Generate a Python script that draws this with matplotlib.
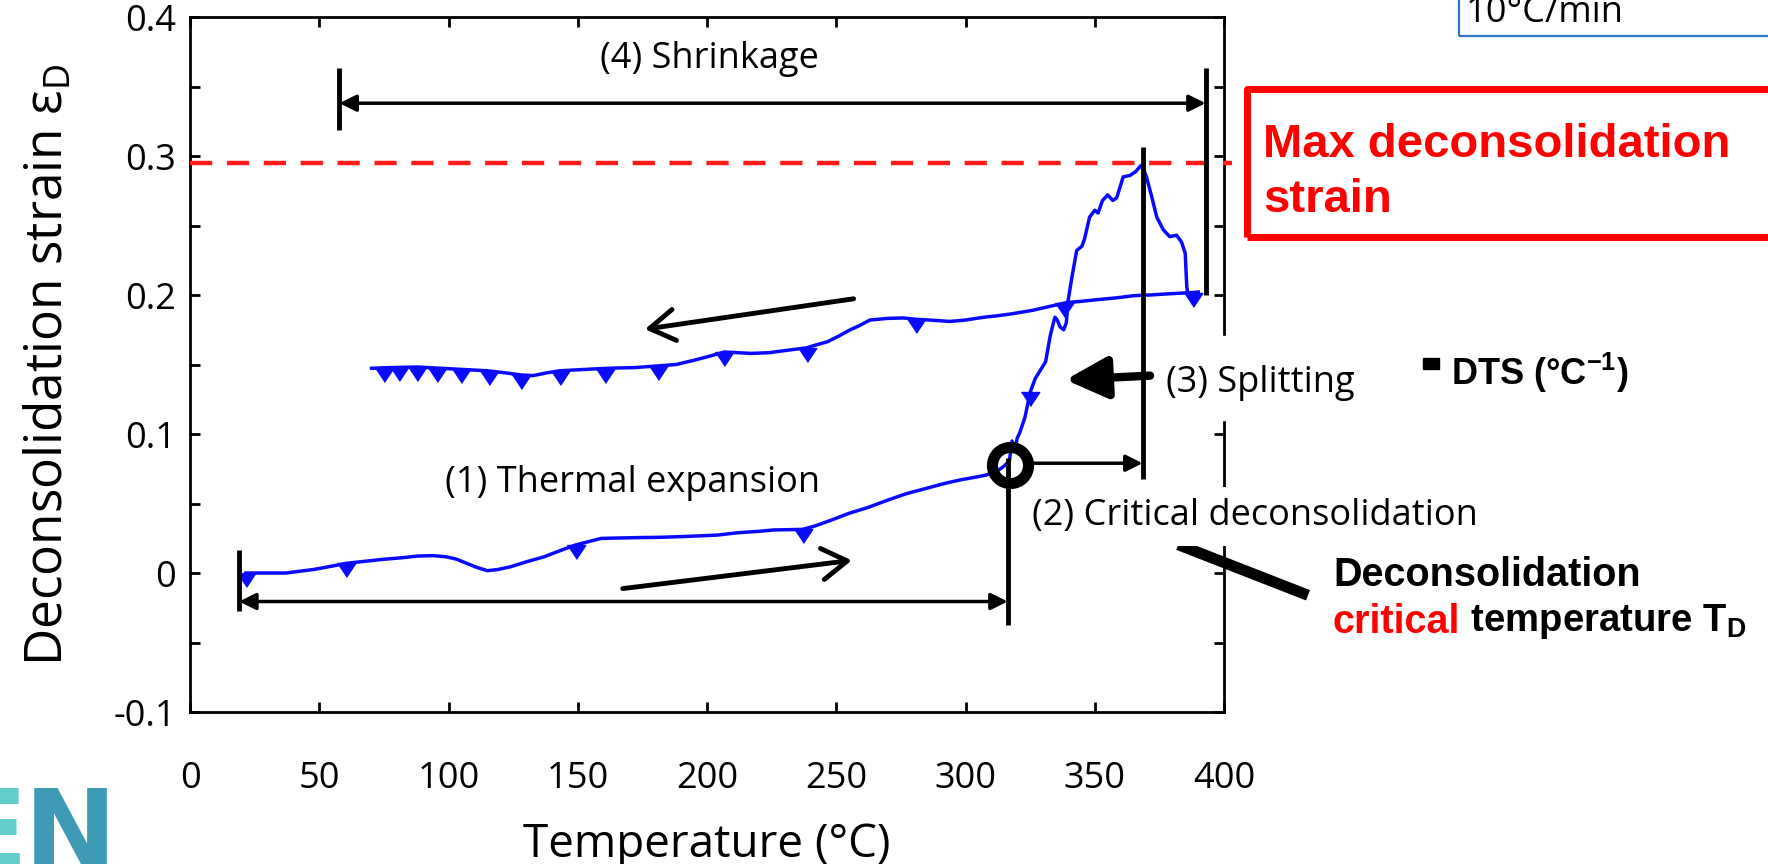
import matplotlib.pyplot as plt
from matplotlib.patches import Rectangle

plt.rcParams['font.family'] = ['Open Sans', 'DejaVu Sans']
plt.rcParams['mathtext.fontset'] = 'custom'
plt.rcParams['mathtext.rm'] = 'Open Sans'
plt.rcParams['mathtext.bf'] = 'Liberation Sans:bold'

# heating branch
heat_T = [21.6, 30, 37, 48, 55, 60.5, 68, 75, 82, 88, 94, 99, 103, 107, 111, 115, 119, 124,
          130, 137, 143, 149, 154, 159, 166, 174, 182, 190, 198, 204, 212, 220, 226, 232, 237,
          242, 248, 255, 262, 270, 277, 285, 292, 298, 304, 308, 312, 315, 317, 318, 319, 320,
          321, 323, 325, 327, 329, 331, 332.7, 334, 334.6, 335.5, 336.6, 338, 339, 339.7, 341,
          343, 345, 346, 348, 350, 351.3, 353, 355, 357, 358.5, 360, 361, 363.6, 366, 367.7,
          369, 370, 372, 374, 376.5, 379, 381.7, 383.6, 385, 385.6, 386, 388, 390]
heat_eps = [0.000, 0.000, 0.000, 0.0026, 0.005, 0.007, 0.0085, 0.0099, 0.011, 0.0122, 0.0125,
            0.0117, 0.0100, 0.0070, 0.0040, 0.0017, 0.0025, 0.0045, 0.008, 0.0117, 0.016,
            0.0201, 0.0225, 0.0249, 0.0252, 0.0255, 0.0257, 0.0262, 0.0268, 0.0273, 0.029,
            0.030, 0.031, 0.0312, 0.0314, 0.034, 0.038, 0.043, 0.047, 0.0525, 0.057, 0.061,
            0.0645, 0.067, 0.069, 0.0705, 0.073, 0.077, 0.081, 0.095, 0.088, 0.097, 0.101,
            0.112, 0.130, 0.140, 0.146, 0.152, 0.170, 0.180, 0.184, 0.182, 0.177, 0.175, 0.180,
            0.196, 0.211, 0.232, 0.235, 0.240, 0.256, 0.261, 0.259, 0.268, 0.272, 0.268, 0.270,
            0.279, 0.285, 0.286, 0.289, 0.293, 0.290, 0.285, 0.271, 0.256, 0.247, 0.242, 0.243,
            0.238, 0.230, 0.206, 0.201, 0.2015, 0.202]

# cooling branch
cool_T = [390, 385, 380, 371, 365, 358.5, 350, 345, 339, 333, 326, 318, 312, 307, 300, 294,
          286, 281, 276, 270, 263, 259, 255.4, 251, 246.6, 242, 238.5, 230, 224, 217, 212,
          206.7, 201, 194.8, 188, 181, 172, 165, 158, 150, 143, 138, 132.7, 128, 122, 115,
          110, 105, 100, 95, 88, 82, 76, 70.2]
cool_eps = [0.202, 0.2015, 0.201, 0.200, 0.1995, 0.198, 0.1965, 0.1955, 0.1945, 0.192, 0.189,
            0.1865, 0.185, 0.184, 0.182, 0.181, 0.182, 0.1825, 0.1835, 0.1832, 0.182, 0.178,
            0.175, 0.1705, 0.1664, 0.164, 0.162, 0.160, 0.1585, 0.158, 0.1585, 0.159, 0.156,
            0.153, 0.150, 0.149, 0.1478, 0.1475, 0.147, 0.1462, 0.1455, 0.144, 0.142, 0.1425,
            0.144, 0.1455, 0.146, 0.1465, 0.147, 0.1475, 0.1482, 0.148, 0.1477, 0.1473]

mark_T = [21.6, 60.5, 149.3, 237, 325, 74.9, 80.8, 87.9, 95.6, 105, 115.6, 128.2, 143, 160.5,
          181.2, 206.7, 238.5, 280.7, 338, 388]
mark_eps = [0.000, 0.007, 0.0201, 0.0314, 0.130, 0.1477, 0.148, 0.1482, 0.1475, 0.1465,
            0.1455, 0.1425, 0.1455, 0.147, 0.149, 0.159, 0.162, 0.1825, 0.194, 0.2018]

# key points of the annotation
T_start = 19
T_D = 316.3
eps_TD = 0.078
T_peak = 368.5
eps_max = 0.2947
T_shrink = 57.8
T_end = 392.9

xticks = [0, 50, 100, 150, 200, 250, 300, 350, 400]
yticks = [-0.1, 0, 0.1, 0.2, 0.3, 0.4]
ytick_labels = ['-0.1', '0', '0.1', '0.2', '0.3', '0.4']

fig = plt.figure(figsize=(17.68, 8.64), dpi=100)
ax = fig.add_axes([0.1075, 0.1759, 0.5848, 0.8044])

ax.plot(heat_T, heat_eps, color='#0a0aff', lw=2.5, zorder=4)
ax.plot(cool_T, cool_eps, color='#0a0aff', lw=2.5, zorder=4)
tri = [(-1, 0), (1, 0), (0, -1.5)]
ax.plot(mark_T, mark_eps, ls='none', marker=tri, ms=20, color='#0a0aff', zorder=4)

ax.set_xlim(0, 400)
ax.set_ylim(-0.1, 0.4)
ax.set_xticks(xticks)
ax.set_yticks(yticks)
ax.set_yticklabels(ytick_labels)
ax.set_yticks([-0.05, 0.05, 0.15, 0.25, 0.35], minor=True)
ax.tick_params(which='both', direction='in', top=True, right=True, length=7, width=2,
               labelsize=26)
ax.tick_params(axis='x', pad=35)
ax.tick_params(axis='y', pad=10)
for s in ax.spines.values():
    s.set_linewidth(2)

ax.set_xlabel('Temperature (°C)', fontsize=33, labelpad=18)
ax.set_ylabel(r'Deconsolidation strain ε$_\mathregular{D}$', fontsize=37, labelpad=28)

# max strain dashed line
ax.plot([0, 403], [eps_max, eps_max], ls=(0, (5, 3.3)), color='#ff1a1a', lw=3.2,
        clip_on=False, zorder=3)

k = dict(color='k', clip_on=False, solid_capstyle='butt', zorder=5)
arr = dict(color='k', shrinkA=0, shrinkB=0)

# (4) shrinkage
ax.plot([T_shrink, T_shrink], [0.319, 0.3633], lw=3.5, **k)
ax.plot([T_end, T_end], [0.2, 0.3633], lw=3.5, **k)
ax.annotate('', xy=(T_end, 0.338), xytext=(T_shrink, 0.338), annotation_clip=False,
            arrowprops=dict(arrowstyle='<|-|>', mutation_scale=25, lw=2.5, **arr))
ax.text(201, 0.370, '(4) Shrinkage', fontsize=26, ha='center', va='center')

# (1) thermal expansion
ax.plot([T_start, T_start], [-0.0275, 0.0165], lw=3.5, **k)
ax.plot([T_D, T_D], [-0.0375, 0.083], lw=3.5, **k)
ax.annotate('', xy=(T_D, -0.0205), xytext=(T_start, -0.0205), annotation_clip=False,
            arrowprops=dict(arrowstyle='<|-|>', mutation_scale=25, lw=2.5, **arr))
ax.text(171, 0.065, '(1) Thermal expansion', fontsize=26, ha='center', va='center')

# direction arrows
ax.annotate('', xy=(256, 0.0091), xytext=(167.4, -0.0112),
            arrowprops=dict(arrowstyle='->,head_length=0.4,head_width=0.25',
                            mutation_scale=45, lw=3.5, **arr))
ax.annotate('', xy=(176, 0.1754), xytext=(256.7, 0.1973),
            arrowprops=dict(arrowstyle='->,head_length=0.4,head_width=0.25',
                            mutation_scale=45, lw=3.5, **arr))

# (2) critical deconsolidation
ax.plot([T_peak, T_peak], [0.068, 0.3067], lw=3.5, **k)
ax.plot([T_D + 0.8], [eps_TD], 'o', ms=26, mfc='none', mec='k', mew=8, zorder=6)
ax.annotate('', xy=(T_peak, 0.079), xytext=(323, 0.079),
            arrowprops=dict(arrowstyle='-|>', mutation_scale=25, lw=2.5, **arr))
ax.plot([382.3, 432.5], [0.0204, -0.016], lw=8, **k)
ax.text(325.6, 0.0407, '(2) Critical deconsolidation', fontsize=26, ha='left', va='center',
        zorder=7, bbox=dict(facecolor='white', edgecolor='none', pad=8))

# (3) splitting
ax.annotate('', xy=(338.7, 0.139), xytext=(371.4, 0.142), annotation_clip=False,
            arrowprops=dict(arrowstyle='-|>,head_length=0.6,head_width=0.3',
                            mutation_scale=42, lw=6, **arr))
ax.add_patch(Rectangle((1200 / 1768, 1 - 420 / 864), 45 / 1768, 84 / 864,
                       transform=fig.transFigure, color='white', zorder=2.6, clip_on=False))
ax.text(377.5, 0.1364, '(3) Splitting', fontsize=26, ha='left', va='center', zorder=7,
        bbox=dict(facecolor='white', edgecolor='none', pad=3))

# side notes
bold = dict(family='Liberation Sans', weight='bold')
fig.patches.append(Rectangle((0.7053, 0.7257), 0.4, 0.1713, transform=fig.transFigure,
                             fill=False, ec='#ff0000', lw=5, joinstyle='round'))
fig.text(1263 / 1768, 1 - 157 / 864, 'Max deconsolidation', color='#ff0000', fontsize=34,
         va='baseline', **bold)
fig.text(1263 / 1768, 1 - 212 / 864, 'strain', color='#ff0000', fontsize=34,
         va='baseline', **bold)

fig.patches.append(Rectangle((0.8252, 0.9583), 0.3, 0.1, transform=fig.transFigure,
                             fill=False, ec='#2e75c6', lw=1.6))
fig.text(1466 / 1768, 1 - 22 / 864, '10°C/min', fontsize=26, va='baseline')

fig.patches.append(Rectangle((1423 / 1768, 1 - 369 / 864), 16 / 1768, 11 / 864,
                             transform=fig.transFigure, color='k'))
fig.text(1451 / 1768, 1 - 385 / 864, r'DTS (°C$^\mathbf{-1}$)', fontsize=26, va='baseline',
         **bold)

fig.text(1333 / 1768, 1 - 586 / 864, 'Deconsolidation', fontsize=28.5, va='baseline', **bold)
t1 = fig.text(1333 / 1768, 1 - 633 / 864, 'critical', fontsize=28.5, color='#ff0000',
              va='baseline', **bold)
plt.annotate(r' temperature T$_\mathbf{D}$', xy=(1, 0), xycoords=t1, fontsize=27.5,
             va='bottom', ha='left', **bold)

# logo fragment
fig.text(-48 / 1768, -0.006, 'E', fontsize=80, color='#63cccc', weight='bold',
         family=['Liberation Sans Narrow', 'DejaVu Sans'])
fig.text(24 / 1768, -0.006, 'N', fontsize=80, color='#3f9ab6', weight='bold',
         family=['Liberation Sans Narrow', 'DejaVu Sans'])

fig.savefig('out.png', dpi=100)
